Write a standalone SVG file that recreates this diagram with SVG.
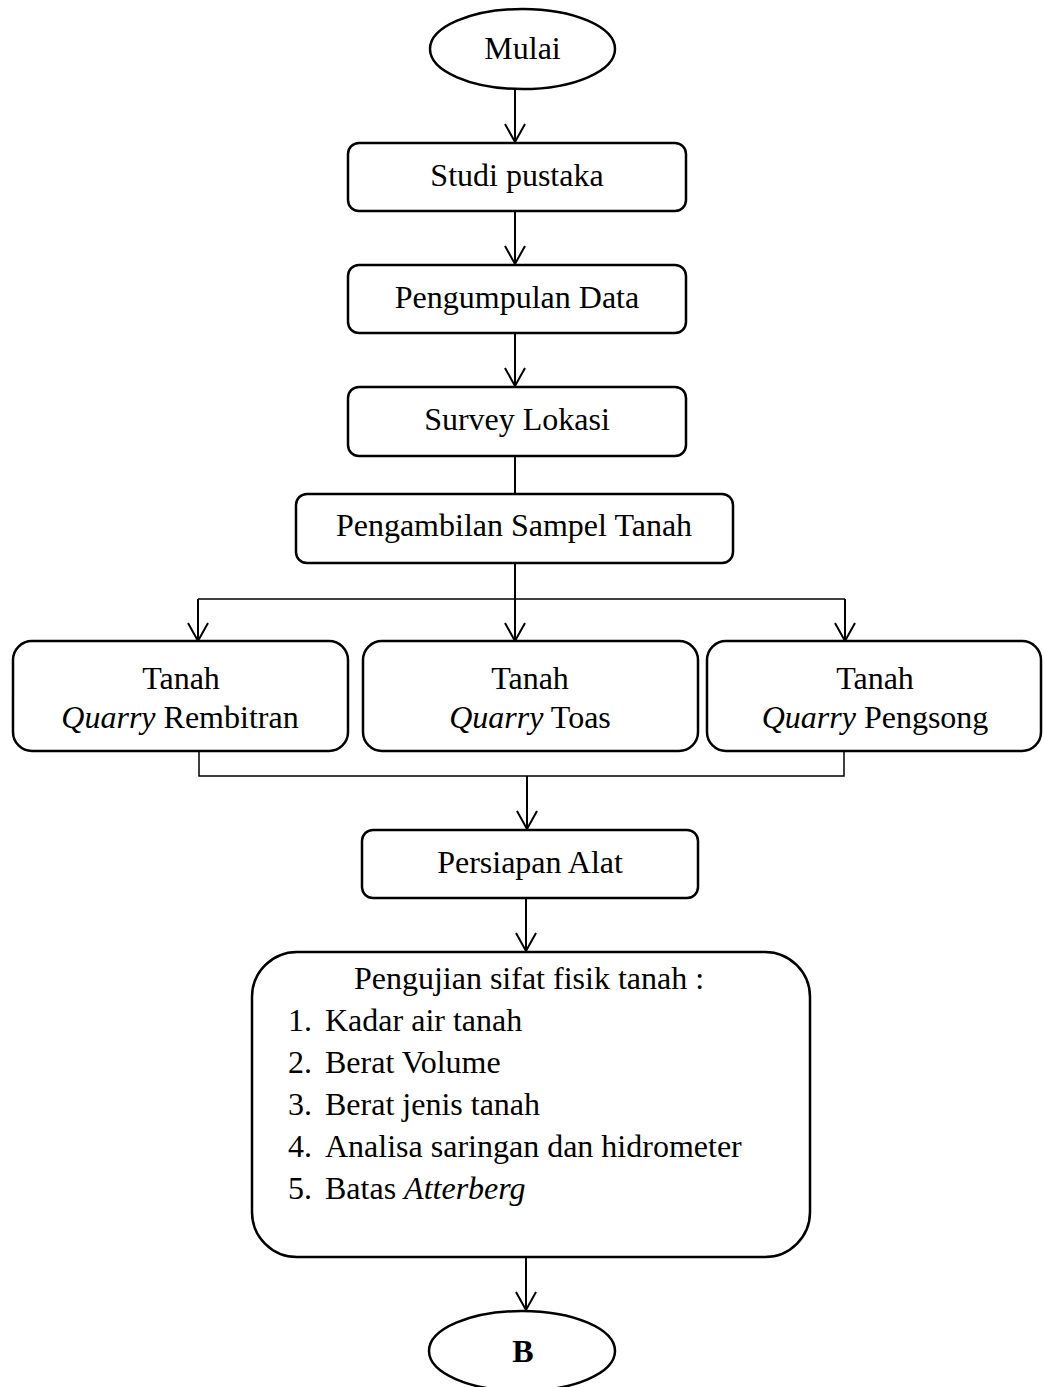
<svg xmlns="http://www.w3.org/2000/svg" width="1045" height="1387" viewBox="0 0 1045 1387">
<style>
.box{fill:#fff;stroke:#000;stroke-width:2.5}
.t{font-family:"Liberation Serif","Times New Roman",serif;font-size:32px;fill:#000}
.c{text-anchor:middle}
.i{font-style:italic}
.conn line,.conn path{stroke:#000;stroke-width:2;fill:none}
</style>
<defs>
<marker id="arr" markerUnits="userSpaceOnUse" markerWidth="24" markerHeight="24" viewBox="-20 -12 24 24" refX="0" refY="0" orient="auto" overflow="visible">
<path d="M-18,-10 L0,0 L-18,10" fill="none" stroke="#000" stroke-width="2"/>
</marker>
</defs>
<rect width="1045" height="1387" fill="#fff"/>
<g class="conn">
<line x1="515" y1="89" x2="515" y2="142" marker-end="url(#arr)"/>
<line x1="515" y1="211" x2="515" y2="264" marker-end="url(#arr)"/>
<line x1="515" y1="333" x2="515" y2="386" marker-end="url(#arr)"/>
<line x1="515" y1="456" x2="515" y2="494"/>
<line x1="515" y1="563" x2="515" y2="641" marker-end="url(#arr)"/>
<line x1="198" y1="599" x2="845" y2="599" style="stroke-width:1.5"/>
<line x1="198" y1="599" x2="198" y2="641" marker-end="url(#arr)"/>
<line x1="845" y1="599" x2="845" y2="641" marker-end="url(#arr)"/>
<path d="M199,751 V776 H844 V751" style="stroke-width:1.5"/>
<line x1="527" y1="776" x2="527" y2="829" marker-end="url(#arr)"/>
<line x1="526" y1="898" x2="526" y2="951" marker-end="url(#arr)"/>
<line x1="526" y1="1257" x2="526" y2="1310" marker-end="url(#arr)"/>
</g>
<g id="mulai">
<ellipse class="box" cx="522.5" cy="49" rx="92.5" ry="40"/>
<text class="t c" x="522.5" y="59">Mulai</text>
</g>
<g id="studi">
<rect class="box" x="348" y="143" width="338" height="68" rx="11"/>
<text class="t c" x="517" y="186">Studi pustaka</text>
</g>
<g id="pengumpulan">
<rect class="box" x="348" y="265" width="338" height="68" rx="11"/>
<text class="t c" x="517" y="308">Pengumpulan Data</text>
</g>
<g id="survey">
<rect class="box" x="348" y="387" width="338" height="69" rx="11"/>
<text class="t c" x="517" y="430">Survey Lokasi</text>
</g>
<g id="pengambilan">
<rect class="box" x="296" y="494" width="437" height="69" rx="11"/>
<text class="t c" x="514" y="536">Pengambilan Sampel Tanah</text>
</g>
<g id="rembitran">
<rect class="box" x="13" y="641" width="335" height="110" rx="19"/>
<text class="t c" x="181" y="689">Tanah</text>
<text class="t c" x="180" y="728"><tspan class="i">Quarry</tspan> Rembitran</text>
</g>
<g id="toas">
<rect class="box" x="363" y="641" width="335" height="110" rx="19"/>
<text class="t c" x="530" y="689">Tanah</text>
<text class="t c" x="530" y="728"><tspan class="i">Quarry</tspan> Toas</text>
</g>
<g id="pengsong">
<rect class="box" x="707" y="641" width="334" height="110" rx="19"/>
<text class="t c" x="875" y="689">Tanah</text>
<text class="t c" x="875" y="728"><tspan class="i">Quarry</tspan> Pengsong</text>
</g>
<g id="persiapan">
<rect class="box" x="362" y="830" width="336" height="68" rx="11"/>
<text class="t c" x="530" y="873">Persiapan Alat</text>
</g>
<g id="pengujian">
<rect class="box" x="252" y="952" width="558" height="305" rx="45"/>
<text class="t c" x="529" y="989">Pengujian sifat fisik tanah :</text>
<text class="t" x="288" y="1031">1.</text><text class="t" x="325" y="1031">Kadar air tanah</text>
<text class="t" x="288" y="1073">2.</text><text class="t" x="325" y="1073">Berat Volume</text>
<text class="t" x="288" y="1115">3.</text><text class="t" x="325" y="1115">Berat jenis tanah</text>
<text class="t" x="288" y="1157">4.</text><text class="t" x="325" y="1157">Analisa saringan dan hidrometer</text>
<text class="t" x="288" y="1199">5.</text><text class="t" x="325" y="1199">Batas <tspan class="i">Atterberg</tspan></text>
</g>
<g id="b">
<ellipse class="box" cx="522" cy="1351" rx="93" ry="40"/>
<text class="t c" x="523" y="1362" font-weight="bold">B</text>
</g>
</svg>
